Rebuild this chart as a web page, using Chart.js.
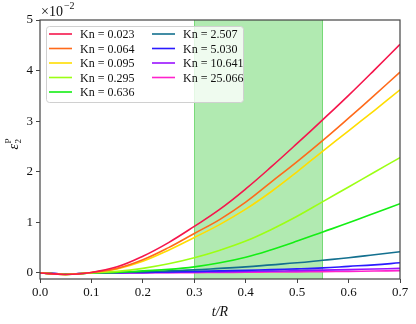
<!DOCTYPE html>
<html>
<head>
<meta charset="utf-8">
<script src="https://cdn.jsdelivr.net/npm/chart.js@4.4.1/dist/chart.umd.min.js"></script>
<style>
  html, body { margin: 0; padding: 0; background: #fff; }
  #wrap { width: 416px; height: 324px; position: relative; }
</style>
</head>
<body>
<div id="wrap"><canvas id="chart"></canvas></div>
<script>
// tiempo adimensional t/R
const tValues = [0, 0.05, 0.1, 0.15, 0.2, 0.25, 0.3, 0.35, 0.4, 0.45, 0.5, 0.55, 0.6, 0.65, 0.7];

// eps_2^P en unidades de 1e-2, una serie por Kn
const knLabels = ['Kn = 0.023', 'Kn = 0.064', 'Kn = 0.095', 'Kn = 0.295', 'Kn = 0.636',
                  'Kn = 2.507', 'Kn = 5.030', 'Kn = 10.641', 'Kn = 25.066'];
const kn0023 = [0, -0.03, 0.01, 0.12, 0.33, 0.60, 0.92, 1.26, 1.66, 2.10, 2.56, 3.03, 3.51, 4.01, 4.52];
const kn0064 = [0, -0.03, 0.01, 0.09, 0.26, 0.50, 0.78, 1.06, 1.40, 1.80, 2.20, 2.62, 3.06, 3.51, 3.97];
const kn0095 = [0, -0.03, 0.01, 0.08, 0.23, 0.45, 0.70, 0.96, 1.26, 1.61, 2.00, 2.41, 2.81, 3.21, 3.62];
const kn0295 = [0, -0.03, 0.00, 0.03, 0.09, 0.18, 0.30, 0.45, 0.63, 0.86, 1.12, 1.41, 1.70, 1.99, 2.28];
const kn0636 = [0, -0.03, 0.00, 0.01, 0.04, 0.07, 0.12, 0.20, 0.31, 0.46, 0.63, 0.81, 0.99, 1.18, 1.37];
const kn2507 = [0, -0.02, 0.00, 0.01, 0.02, 0.04, 0.06, 0.09, 0.12, 0.16, 0.20, 0.25, 0.30, 0.36, 0.42];
const kn5030 = [0, -0.02, 0.00, 0.005, 0.01, 0.02, 0.03, 0.04, 0.05, 0.065, 0.08, 0.10, 0.13, 0.16, 0.20];
const kn10641 = [0, -0.02, 0.00, 0.00, 0.005, 0.01, 0.015, 0.02, 0.03, 0.035, 0.045, 0.055, 0.065, 0.078, 0.09];
const kn25066 = [0, -0.02, 0.00, 0.00, 0.00, 0.005, 0.007, 0.01, 0.013, 0.017, 0.021, 0.026, 0.031, 0.037, 0.045];
const seriesValues = [kn0023, kn0064, kn0095, kn0295, kn0636, kn2507, kn5030, kn10641, kn25066];

const lineColors = ['#f5164c', '#ff6a1a', '#ffdd00', '#9cff14', '#14ee14',
                    '#13708f', '#2a1aff', '#9a11ff', '#ff22cc'];

const xTickValues = [0, 0.1, 0.2, 0.3, 0.4, 0.5, 0.6, 0.7];
const yTickValues = [0, 1, 2, 3, 4, 5];
const shadeRange = [0.3, 0.55];

const serif = '"Liberation Serif", "DejaVu Serif", serif';

// franja verde detras de las curvas
const shadePlugin = {
    id: 'shade',
    beforeDatasetsDraw(chart) {
        const { ctx, chartArea, scales } = chart;
        const x0 = scales.x.getPixelForValue(shadeRange[0]);
        const x1 = scales.x.getPixelForValue(shadeRange[1]);
        ctx.save();
        ctx.fillStyle = 'rgba(50, 200, 50, 0.38)';
        ctx.fillRect(x0, chartArea.top, x1 - x0, chartArea.bottom - chartArea.top);
        ctx.strokeStyle = 'rgba(60, 200, 60, 0.55)';
        ctx.lineWidth = 1;
        ctx.beginPath();
        ctx.moveTo(Math.round(x0) + 0.5, chartArea.top);
        ctx.lineTo(Math.round(x0) + 0.5, chartArea.bottom);
        ctx.moveTo(Math.round(x1) - 0.5, chartArea.top);
        ctx.lineTo(Math.round(x1) - 0.5, chartArea.bottom);
        ctx.stroke();
        ctx.restore();
    }
};

// marco, leyenda en dos columnas, titulos con sub/superindices
const decorPlugin = {
    id: 'decor',
    afterDraw(chart) {
        const { ctx, chartArea } = chart;
        ctx.save();

        // marco del area
        ctx.strokeStyle = '#444';
        ctx.lineWidth = 1.2;
        ctx.strokeRect(chartArea.left, chartArea.top, chartArea.right - chartArea.left, chartArea.bottom - chartArea.top);

        // x10^-2
        ctx.fillStyle = '#111';
        ctx.textBaseline = 'alphabetic';
        ctx.textAlign = 'left';
        ctx.font = '14px ' + serif;
        ctx.fillText('\u00d710', chartArea.left + 1, chartArea.top - 4);
        const w = ctx.measureText('\u00d710').width;
        ctx.font = '10px ' + serif;
        ctx.fillText('\u22122', chartArea.left + 1 + w + 1, chartArea.top - 11);

        // titulo eje x
        ctx.font = 'italic 14px ' + serif;
        ctx.textAlign = 'center';
        ctx.fillText('t/R', (chartArea.left + chartArea.right) / 2, 316);

        // titulo eje y
        ctx.save();
        ctx.translate(18, (chartArea.top + chartArea.bottom) / 2 - 6);
        ctx.rotate(-Math.PI / 2);
        ctx.textAlign = 'left';
        ctx.font = 'italic 14px ' + serif;
        ctx.fillText('\u03b5', -6, 0);
        const ew = ctx.measureText('\u03b5').width;
        ctx.font = '9px ' + serif;
        ctx.fillText('2', -6 + ew + 0.5, 3);
        ctx.fillText('P', -6 + ew + 0.5, -7);
        ctx.restore();

        // leyenda
        const bx = chartArea.left + 6, by = chartArea.top + 6, bw = 197, bh = 76;
        ctx.beginPath();
        ctx.roundRect(bx + 0.5, by + 0.5, bw, bh, 3);
        ctx.fillStyle = 'rgba(255, 255, 255, 0.8)';
        ctx.fill();
        ctx.strokeStyle = '#d0d0d0';
        ctx.lineWidth = 1;
        ctx.stroke();

        ctx.font = '12px ' + serif;
        ctx.textBaseline = 'middle';
        ctx.textAlign = 'left';
        chart.data.datasets.forEach((ds, i) => {
            const col = i < 5 ? 0 : 1;
            const row = i < 5 ? i : i - 5;
            const hx = bx + 3 + col * 103;
            const hy = by + 8 + row * 14.5;
            ctx.strokeStyle = ds.borderColor;
            ctx.lineWidth = 1.6;
            ctx.beginPath();
            ctx.moveTo(hx, hy);
            ctx.lineTo(hx + 23, hy);
            ctx.stroke();
            ctx.fillStyle = '#111';
            ctx.fillText(ds.label, hx + 31, hy + 1);
        });

        ctx.restore();
    }
};

const datasets = seriesValues.map((vals, i) => ({
    label: knLabels[i],
    data: tValues.map((t, j) => ({ x: t, y: vals[j] })),
    borderColor: lineColors[i],
    borderWidth: 1.6,
    pointRadius: 0,
    fill: false,
    tension: 0.4
}));

new Chart(document.getElementById('chart'), {
    type: 'line',
    data: { datasets: datasets },
    options: {
        responsive: true,
        maintainAspectRatio: false,
        animation: false,
        layout: { padding: { left: 0, right: 16, top: 20, bottom: 0 } },
        plugins: {
            legend: { display: false },
            tooltip: { enabled: false }
        },
        scales: {
            x: {
                type: 'linear',
                min: 0,
                max: 0.7,
                afterBuildTicks: s => { s.ticks = xTickValues.map(v => ({ value: v })); },
                afterFit: s => { s.height = 45; },
                border: { display: false },
                grid: { drawOnChartArea: false, drawTicks: true, tickLength: 4, color: '#444', lineWidth: 1 },
                ticks: {
                    color: '#111',
                    padding: 2,
                    maxRotation: 0,
                    font: { family: serif, size: 13 },
                    callback: v => v.toFixed(1)
                }
            },
            y: {
                type: 'linear',
                min: -0.12,
                max: 5,
                afterBuildTicks: s => { s.ticks = yTickValues.map(v => ({ value: v })); },
                afterFit: s => { s.width = 40; },
                border: { display: false },
                grid: { drawOnChartArea: false, drawTicks: true, tickLength: 4, color: '#444', lineWidth: 1 },
                ticks: {
                    color: '#111',
                    padding: 3,
                    font: { family: serif, size: 13 },
                    callback: v => String(v)
                }
            }
        }
    },
    plugins: [shadePlugin, decorPlugin]
});
</script>
</body>
</html>
